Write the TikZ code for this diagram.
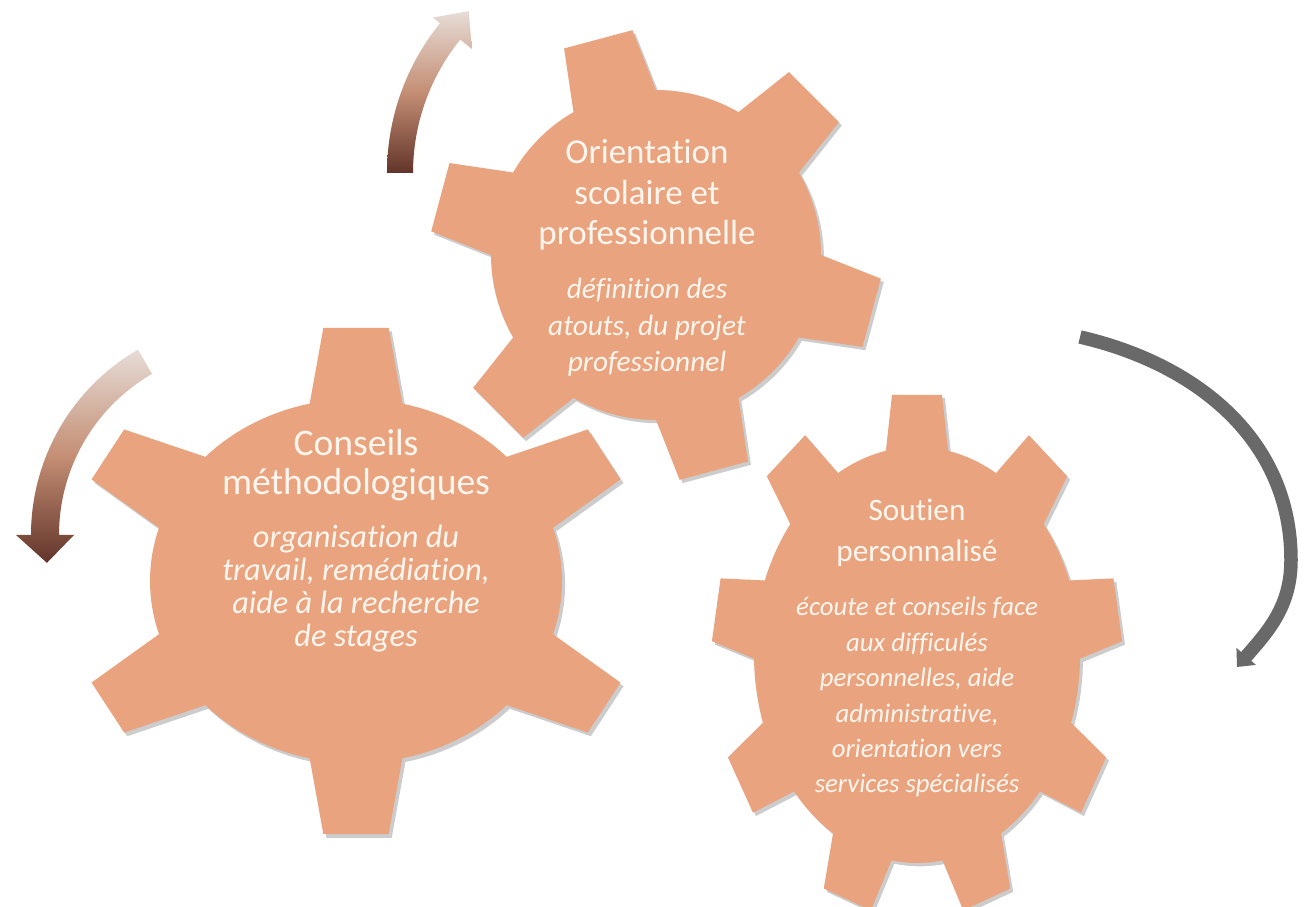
\documentclass[tikz,border=0pt]{standalone}
\usepackage{fontspec}
\setmainfont{Carlito}[Ligatures=NoCommon]
\usepackage{tikz}
\usetikzlibrary{positioning, arrows.meta, calc}

\definecolor{gearsalmon}{RGB}{233,163,126}
\definecolor{gearwhite}{RGB}{253,246,238}
\definecolor{turnlight}{RGB}{230,220,214}
\definecolor{turnmid}{RGB}{196,142,116}
\definecolor{turndark}{RGB}{98,52,42}
\definecolor{turngray}{RGB}{105,105,105}

% teeth, rotation, tip radius, half angle at base, half angle at tip
\newcommand{\gearoutline}[5]{%
	({#2-#4}:1) \foreach \k in {1,...,#1} {
		-- ({#2+(\k-1)*360/#1-#4}:1)
		-- ({#2+(\k-1)*360/#1-#5}:#3)
		-- ({#2+(\k-1)*360/#1+#5}:#3)
		-- ({#2+(\k-1)*360/#1+#4}:1)
		arc[start angle={#2+(\k-1)*360/#1+#4}, end angle={#2+\k*360/#1-#4}, radius=1]
	} -- cycle}

\begin{document}
\begin{tikzpicture}[x=0.02cm, y=0.02cm,
		gear/.style={fill=gearsalmon},
		gear shadow/.style={fill=black, opacity=0.2},
		gear title/.style={text=gearwhite, align=center, anchor=base, inner sep=0pt},
		turn brown/.style={top color=turnlight, bottom color=turndark, middle color=turnmid},
		turn gray/.style={draw=turngray, line width=0.27cm, -{Triangle[width=0.5cm, length=0.28cm]}}]
	\useasboundingbox[fill=white] (0,0) rectangle (1308,906);

	\coordinate (orient c) at (656,651);
	\coordinate (conseil c) at (356,325);
	\coordinate (soutien c) at (917,251);

	% turning arrows
	\begin{scope}[shift={(625,733)}]
		\shade[turn brown] (180:238) arc[start angle=180, end angle=141, radius=238]
			-- (141:247) -- (134:225) -- (141:197)
			-- (141:212) arc[start angle=141, end angle=180, radius=212] -- cycle;
	\end{scope}
	\begin{scope}[shift={(245,371)}]
		\shade[turn brown] (120:214) arc[start angle=120, end angle=180, radius=214]
			-- (180:229) -- (188:200) -- (180:171)
			-- (180:186) arc[start angle=180, end angle=120, radius=186] -- cycle;
	\end{scope}
	\coordinate (soutien turn s) at (1080,569);
	\coordinate (soutien turn r) at (1291,346);
	\coordinate (soutien turn e) at (1237,239);
	\draw [turn gray] (soutien turn s) to[out=-13, in=90] (soutien turn r)
		to[out=-90, in=49] (soutien turn e);

	% gears
	\begin{scope}[shift={(orient c)}, xscale=165, yscale=165]
		\fill[gear shadow, shift={(0.018,-0.02)}] \gearoutline{6}{105}{1.37}{15}{9};
		\fill[gear] \gearoutline{6}{105}{1.37}{15}{9};
	\end{scope}
	\begin{scope}[shift={(conseil c)}, xscale=206, yscale=182]
		\fill[gear shadow, shift={(0.015,-0.02)}] \gearoutline{6}{90}{1.4}{13}{6.5};
		\fill[gear] \gearoutline{6}{90}{1.4}{13}{6.5};
	\end{scope}
	\begin{scope}[shift={(soutien c)}, xscale=163, yscale=208]
		\fill[gear shadow, shift={(0.018,-0.016)}] \gearoutline{9}{90}{1.26}{11}{7};
		\fill[gear] \gearoutline{9}{90}{1.26}{11}{7};
	\end{scope}

	% texts (base = last line)
	\node[gear title, font={\fontsize{19.9}{23.3}\selectfont}] (orient title) at (647,661)
		{Orientation\\scolaire et\\professionnelle};
	\node[gear title, font={\fontsize{16.7}{21}\selectfont\itshape}] (orient desc)
		at ($(orient title.base)+(0,-127)$)
		{définition des\\atouts, du projet\\professionnel};

	\node[gear title, font={\fontsize{21.4}{22.2}\selectfont}] (conseil title) at (356,411)
		{Conseils\\méthodologiques};
	\node[gear title, font={\fontsize{18.4}{18.8}\selectfont\itshape}] (conseil desc)
		at ($(conseil title.base)+(0,-152)$)
		{organisation du\\travail, remédiation,\\aide à la recherche\\de stages};

	\node[gear title, font={\fontsize{17.8}{23.9}\selectfont}] (soutien title) at (917,344)
		{Soutien\\personnalisé};
	\node[gear title, font={\fontsize{15.2}{20.2}\selectfont\itshape}] (soutien desc)
		at ($(soutien title.base)+(0,-231)$)
		{écoute et conseils face\\aux difficulés\\personnelles, aide\\administrative,\\orientation vers\\services spécialisés};
\end{tikzpicture}
\end{document}
